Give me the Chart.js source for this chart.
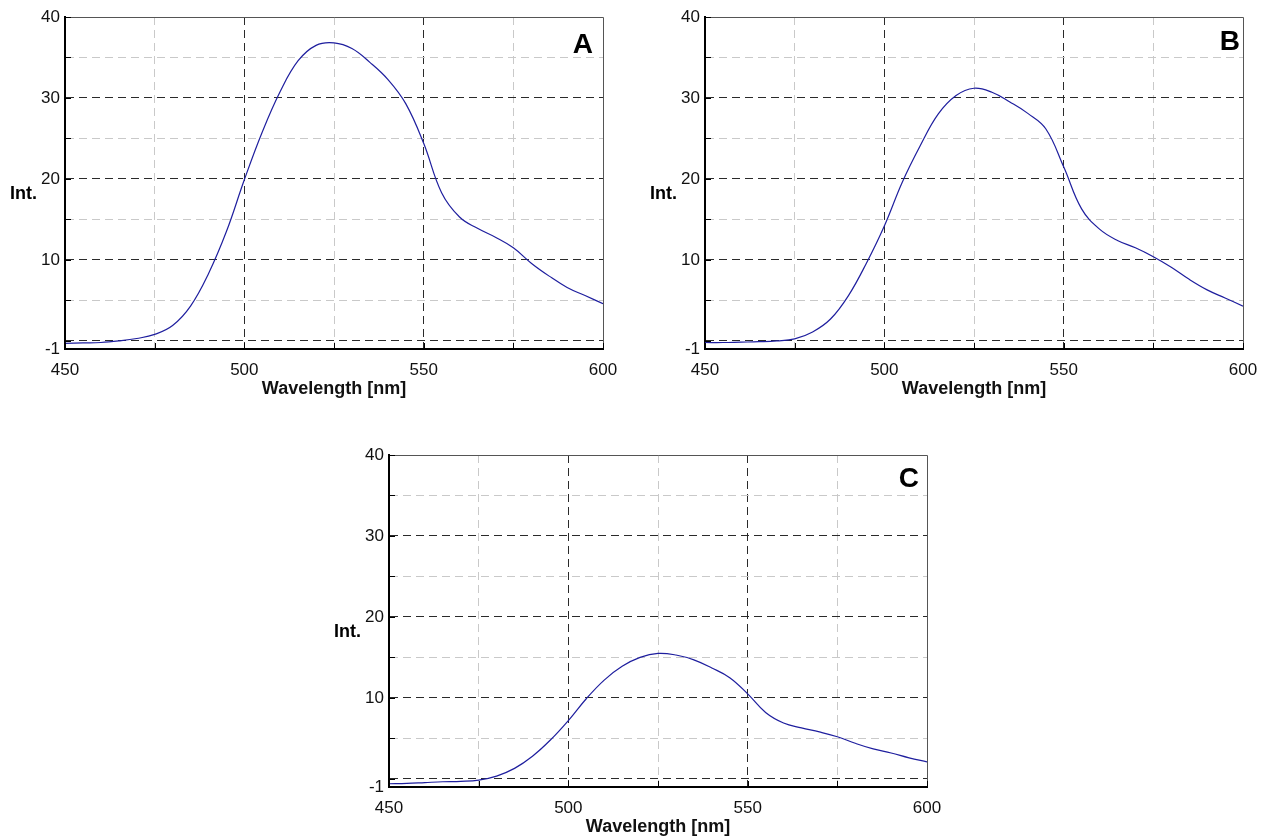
<!DOCTYPE html>
<html>
<head>
<meta charset="utf-8">
<script src="https://cdn.jsdelivr.net/npm/chart.js@4.4.1/dist/chart.umd.min.js"></script>
<style>
  html, body { margin: 0; padding: 0; background: #fff; overflow: hidden; }
  body { width: 1261px; height: 837px; position: relative; }
  .panel { position: absolute; }
</style>
</head>
<body>
<div class="panel" style="left:0px;top:0px;"><canvas id="cA" width="620" height="400"></canvas></div>
<div class="panel" style="left:640px;top:0px;"><canvas id="cB" width="620" height="400"></canvas></div>
<div class="panel" style="left:324px;top:438px;"><canvas id="cC" width="620" height="400"></canvas></div>
<script>
// ---- data ----
const wavelengths = [450,455,460,465,470,475,480,485,490,495,500,505,510,515,520,525,530,535,540,545,550,555,560,565,570,575,580,585,590,595,600];
const intensityA = [-0.3,-0.25,-0.2,0.0,0.3,0.8,1.9,4.3,8.3,13.5,19.9,25.8,30.8,34.6,36.5,36.8,36.1,34.4,32.3,29.3,24.4,18.3,15.3,13.9,12.8,11.5,9.6,8.0,6.6,5.6,4.6];
const intensityB = [-0.2,-0.2,-0.15,-0.1,0.0,0.25,1.1,2.7,5.6,9.6,14.2,19.6,24.1,28.0,30.3,31.2,30.7,29.5,28.1,26.2,21.5,16.3,13.8,12.4,11.5,10.4,9.1,7.6,6.3,5.3,4.3];
const intensityC = [-0.6,-0.55,-0.45,-0.35,-0.3,-0.15,0.35,1.3,2.8,4.8,7.2,9.9,12.2,13.9,15.0,15.5,15.3,14.7,13.7,12.5,10.5,8.2,6.9,6.3,5.8,5.2,4.4,3.7,3.2,2.6,2.1];
const xTickValues = [450,475,500,525,550,575,600];
const xLabelValues = [450,500,550,600];
const xMajorGrid = [500,550];
const yTickValues = [-1,0,5,10,15,20,25,30,35,40];
const yLabelValues = [-1,10,20,30,40];
const yMajorGrid = [0,10,20,30];
const panelLetters = ['A','B','C'];
const xTitle = 'Wavelength [nm]';
const yTitle = 'Int.';

const FONT = '"Liberation Sans", Arial, Helvetica, sans-serif';
const DARK = '#2a2a2a';
const LIGHT = '#c9c9c9';
const LINE = '#1e1e9e';

const decor = {
  id: 'decor',
  afterDraw(chart, args, o) {
    const {ctx, chartArea: a, scales: {x, y}} = chart;
    ctx.save();
    ctx.strokeStyle = '#555';
    ctx.lineWidth = 1;
    ctx.beginPath();
    ctx.moveTo(a.left, Math.round(a.top) + 0.5);
    ctx.lineTo(Math.round(a.right) + 0.5, Math.round(a.top) + 0.5);
    ctx.lineTo(Math.round(a.right) + 0.5, a.bottom);
    ctx.stroke();
    ctx.strokeStyle = '#000';
    ctx.beginPath();
    y.ticks.forEach(t => {
      const py = Math.round(y.getPixelForValue(t.value)) + 0.5;
      ctx.moveTo(a.left, py); ctx.lineTo(a.left + 6, py);
    });
    x.ticks.forEach(t => {
      const px = Math.round(x.getPixelForValue(t.value)) + 0.5;
      ctx.moveTo(px, a.bottom); ctx.lineTo(px, a.bottom - 6);
    });
    ctx.stroke();
    ctx.fillStyle = '#000';
    ctx.font = 'bold 18px ' + FONT;
    ctx.textAlign = 'right';
    ctx.textBaseline = 'middle';
    ctx.fillText(yTitle, a.left - 28, a.top + 177);
    ctx.font = 'bold 28px ' + FONT;
    ctx.textAlign = 'right';
    ctx.textBaseline = 'alphabetic';
    ctx.fillText(o.letter, a.right - o.dx, a.top + o.dy);
    ctx.restore();
  }
};

function makeChart(id, values, letter, dx, dy) {
  const pts = wavelengths.map((w, i) => ({x: w, y: values[i]}));
  return new Chart(document.getElementById(id), {
    type: 'line',
    data: { datasets: [{ data: pts, borderColor: LINE, borderWidth: 1.2, pointRadius: 0, tension: 0.4, fill: false }] },
    options: {
      responsive: false,
      animation: false,
      events: [],
      layout: { padding: { top: 17, right: 17, left: 0, bottom: 0 } },
      plugins: { legend: { display: false }, tooltip: { enabled: false }, decor: { letter, dx, dy } },
      scales: {
        x: {
          type: 'linear', min: 450, max: 600,
          afterBuildTicks: s => { s.ticks = xTickValues.map(v => ({value: v})); },
          afterFit: s => { s.height = 51; s.paddingLeft = 0; s.paddingRight = 0; },
          ticks: { autoSkip: false, maxRotation: 0, padding: 11, color: '#111', font: { family: FONT, size: 17 },
                   callback: v => xLabelValues.includes(v) ? String(v) : '' },
          grid: { drawTicks: false, lineWidth: 1,
                  color: c => (c.tick && (c.tick.value === 450 || c.tick.value === 600)) ? 'rgba(0,0,0,0)' : (c.tick && xMajorGrid.includes(c.tick.value) ? DARK : LIGHT) },
          border: { display: true, color: '#000', width: 2, dash: [8, 5] },
          title: { display: true, text: xTitle, color: '#111', font: { family: FONT, size: 18, weight: 'bold' }, padding: { top: 0, bottom: 0 } }
        },
        y: {
          type: 'linear', min: -1, max: 40,
          afterBuildTicks: s => { s.ticks = yTickValues.map(v => ({value: v})); },
          afterFit: s => { s.width = 65; s.paddingTop = 0; s.paddingBottom = 0; },
          ticks: { autoSkip: false, padding: 5, color: '#111', font: { family: FONT, size: 17 },
                   callback: v => yLabelValues.includes(v) ? String(v) : '' },
          grid: { drawTicks: false, lineWidth: 1,
                  color: c => (c.tick && (c.tick.value === -1 || c.tick.value === 40)) ? 'rgba(0,0,0,0)' : (c.tick && yMajorGrid.includes(c.tick.value) ? DARK : LIGHT) },
          border: { display: true, color: '#000', width: 2, dash: [8, 5] }
        }
      }
    },
    plugins: [decor]
  });
}

makeChart('cA', intensityA, panelLetters[0], 10, 36);
makeChart('cB', intensityB, panelLetters[1], 3, 33);
makeChart('cC', intensityC, panelLetters[2], 8, 32);
</script>
</body>
</html>
